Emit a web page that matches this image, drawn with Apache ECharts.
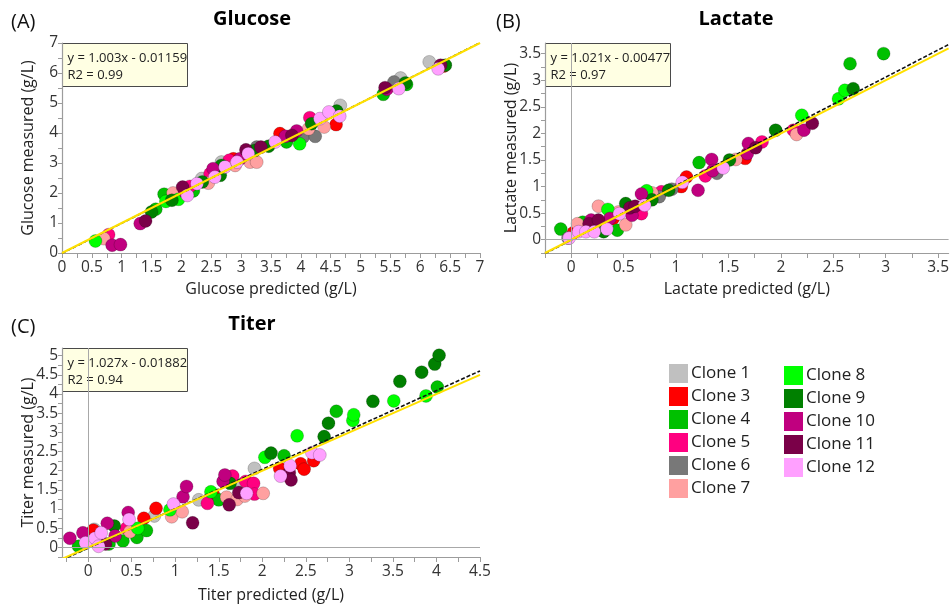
<!DOCTYPE html>
<html>
<head>
<meta charset="UTF-8">
<title>Predicted vs measured</title>
<script src="https://cdn.jsdelivr.net/npm/echarts@6/dist/echarts.min.js"></script>
<style>
  html, body { margin: 0; padding: 0; background: #fff; }
  #main { width: 952px; height: 604px; }
</style>
</head>
<body>
<div id="main"></div>
<script type="text/javascript">
    // clones shown in the legend
    var cloneNums = [1, 3, 4, 5, 6, 7, 8, 9, 10, 11, 12];
    var cloneColors = ['#c0c0c0', '#ff0000', '#00c000', '#ff0080', '#787878', '#ffa0a0',
                       '#00ff00', '#008000', '#c0007f', '#7a0048', '#ffa0ff'];

    // [clone, predicted, measured]
    var glucosePts = [
        [8,0.56,0.40],[5,0.78,0.61],[7,0.70,0.48],[10,0.84,0.26],[10,0.98,0.28],[10,1.31,0.98],
        [11,1.40,1.07],[9,1.50,1.37],[4,1.57,1.46],[4,1.71,1.96],[8,1.74,1.72],[9,1.84,1.76],
        [7,1.86,2.00],[8,1.95,1.79],[11,2.02,2.20],[10,2.06,2.03],[12,2.10,1.92],[5,2.14,2.22],
        [4,2.20,2.07],[12,2.26,2.31],[1,2.34,2.48],[9,2.35,2.37],[7,2.45,2.33],[5,2.48,2.64],
        [10,2.53,2.81],[12,2.56,2.53],[9,2.65,2.59],[1,2.67,3.03],[9,2.67,2.92],[5,2.80,3.09],
        [12,2.73,2.87],[7,2.90,2.92],[12,2.93,3.03],[3,2.87,3.14],[10,2.98,3.14],[11,3.08,3.44],
        [7,3.15,3.03],[12,3.12,3.31],[7,3.26,3.03],[9,3.23,3.42],[6,3.26,3.53],[11,3.33,3.53],
        [9,3.46,3.56],[12,3.57,3.70],[3,3.65,3.98],[10,3.74,3.89],[4,3.76,3.70],[11,3.85,3.92],
        [10,3.93,4.07],[8,3.98,3.64],[6,4.04,3.87],[7,4.13,4.14],[5,4.15,4.51],[9,4.18,4.31],
        [6,4.24,3.89],[12,4.32,4.48],[7,4.39,4.20],[12,4.47,4.70],[9,4.60,4.73],[3,4.59,4.28],
        [1,4.66,4.92],[12,4.65,4.56],[4,5.38,5.29],[10,5.44,5.46],[11,5.41,5.51],[6,5.56,5.70],
        [1,5.67,5.83],[12,5.64,5.48],[9,5.75,5.67],[4,5.77,5.62],[1,6.15,6.37],[12,6.30,6.14],
        [11,6.34,6.26],[3,6.39,6.23],[9,6.42,6.26]
    ];
    var lactatePts = [
        [4,-0.10,0.20],[6,-0.03,0.03],[12,-0.02,0.03],[3,0.02,0.13],[7,0.06,0.30],[12,0.07,0.15],
        [4,0.11,0.33],[12,0.14,0.15],[10,0.19,0.37],[11,0.17,0.30],[11,0.26,0.37],[7,0.26,0.63],
        [12,0.22,0.15],[9,0.31,0.15],[8,0.35,0.57],[12,0.34,0.20],[10,0.37,0.40],[3,0.40,0.40],
        [7,0.45,0.52],[12,0.46,0.49],[4,0.44,0.18],[7,0.52,0.28],[9,0.52,0.68],[11,0.56,0.60],
        [10,0.58,0.46],[11,0.61,0.63],[5,0.67,0.49],[10,0.67,0.86],[12,0.70,0.65],[8,0.72,0.92],
        [7,0.77,0.88],[9,0.77,0.75],[6,0.84,0.81],[5,0.86,0.90],[9,0.93,0.93],[6,0.96,0.95],
        [3,1.05,1.00],[12,1.06,1.08],[3,1.10,1.18],[10,1.21,0.93],[4,1.22,1.45],[5,1.28,1.20],
        [10,1.34,1.51],[10,1.35,1.30],[6,1.39,1.25],[12,1.45,1.35],[9,1.51,1.50],[7,1.57,1.51],
        [3,1.66,1.53],[10,1.68,1.62],[10,1.69,1.81],[11,1.76,1.73],[5,1.82,1.84],[9,1.95,2.06],
        [5,2.12,2.06],[7,2.15,1.98],[8,2.20,2.34],[10,2.22,2.06],[11,2.30,2.19],[8,2.55,2.65],
        [8,2.61,2.81],[9,2.69,2.84],[4,2.66,3.31],[4,2.98,3.50]
    ];
    var titerPts = [
        [10,-0.21,0.24],[4,-0.11,0.03],[10,-0.06,0.38],[3,0.06,0.45],[1,0.07,0.47],[12,-0.03,0.12],
        [12,0.08,0.24],[12,0.15,0.38],[11,0.20,0.09],[12,0.12,0.03],[10,0.22,0.63],[9,0.30,0.56],
        [4,0.24,0.09],[10,0.31,0.30],[4,0.40,0.17],[10,0.46,0.91],[12,0.47,0.73],[5,0.44,0.50],
        [7,0.48,0.41],[8,0.57,0.50],[4,0.56,0.26],[3,0.64,0.76],[4,0.67,0.44],[1,0.76,0.82],
        [3,0.78,1.02],[8,0.94,0.98],[7,0.96,0.80],[12,0.98,1.13],[7,1.08,0.93],[10,1.09,1.32],
        [10,1.13,1.59],[11,1.20,0.64],[1,1.27,1.24],[5,1.37,1.15],[8,1.41,1.45],[3,1.44,1.37],
        [4,1.50,1.24],[10,1.55,1.72],[10,1.57,1.89],[7,1.59,1.31],[11,1.62,1.11],[9,1.63,1.67],
        [5,1.66,1.86],[7,1.71,1.25],[11,1.73,1.43],[1,1.76,1.65],[12,1.82,1.41],[7,1.80,1.34],
        [5,1.81,1.72],[5,1.90,1.67],[5,1.91,1.39],[1,1.91,2.06],[7,2.01,1.41],[8,2.03,2.35],
        [9,2.10,2.46],[3,2.20,2.06],[12,2.21,1.86],[4,2.25,2.39],[12,2.32,2.13],[11,2.31,1.95],
        [11,2.33,1.76],[8,2.40,2.91],[3,2.44,2.18],[3,2.48,2.04],[3,2.59,2.26],[12,2.57,2.47],
        [12,2.66,2.41],[9,2.71,2.89],[9,2.76,3.24],[4,2.85,3.55],[8,3.04,3.31],[8,3.05,3.46],
        [9,3.27,3.81],[8,3.51,3.82],[9,3.58,4.33],[9,3.83,4.57],[8,3.88,3.95],[4,4.01,4.18],
        [9,3.98,4.78],[9,4.03,5.01]
    ];

    // fit: [slope, intercept], r2
    var glucoseFit = [1.003, -0.01159], glucoseR2 = '0.99';
    var lactateFit = [1.021, -0.00477], lactateR2 = '0.97';
    var titerFit = [1.027, -0.01882], titerR2 = '0.94';

    // tick labels
    var glucoseXLabels = [0, 0.5, 1, 1.5, 2, 2.5, 3, 3.5, 4, 4.5, 5, 5.5, 6, 6.5, 7];
    var glucoseYLabels = [0, 1, 2, 3, 4, 5, 6, 7];
    var lactateXLabels = [0, 0.5, 1, 1.5, 2, 2.5, 3, 3.5];
    var lactateYLabels = [0, 0.5, 1, 1.5, 2, 2.5, 3, 3.5];
    var titerXLabels = [0, 0.5, 1, 1.5, 2, 2.5, 3, 3.5, 4, 4.5];
    var titerYLabels = [0, 0.5, 1, 1.5, 2, 2.5, 3, 3.5, 4, 4.5, 5];

    function steps(from, to, step) {
        var out = [];
        for (var v = from; v <= to + 1e-9; v += step) out.push(Math.round(v * 1000) / 1000);
        return out;
    }

    var FONT = '"Open Sans", "Noto Sans", sans-serif';
    var AXIS_GRAY = '#9c9c9c';

    var panels = [
        { title: 'Glucose', tag: '(A)', pts: glucosePts, fit: glucoseFit, r2: glucoseR2,
          grid: { left: 62, top: 43, width: 418, height: 210 },
          x: [0, 7], y: [0, 7], xTicks: steps(0, 7, 0.25), yTicks: steps(0, 7, 0.5),
          xLabels: glucoseXLabels, yLabels: glucoseYLabels, zero: false,
          xName: 'Glucose predicted (g/L)', yName: 'Glucose measured (g/L)',
          titleX: 252, titleY: 9, tagX: 11, tagY: 12, xGap: 28 },
        { title: 'Lactate', tag: '(B)', pts: lactatePts, fit: lactateFit, r2: lactateR2,
          grid: { left: 545, top: 43, width: 409, height: 210 },
          x: [-0.25, 3.6], y: [-0.25, 3.7], xTicks: steps(-0.25, 3.5, 0.25), yTicks: steps(-0.25, 3.5, 0.25),
          xLabels: lactateXLabels, yLabels: lactateYLabels, zero: true,
          xName: 'Lactate predicted (g/L)', yName: 'Lactate measured (g/L)',
          titleX: 736, titleY: 9, tagX: 496, tagY: 12, xGap: 28 },
        { title: 'Titer', tag: '(C)', pts: titerPts, fit: titerFit, r2: titerR2,
          grid: { left: 62, top: 348, width: 418, height: 209 },
          x: [-0.3, 4.5], y: [-0.25, 5.2], xTicks: steps(-0.25, 4.5, 0.25), yTicks: steps(-0.25, 5, 0.25),
          xLabels: titerXLabels, yLabels: titerYLabels, zero: true,
          xName: 'Titer predicted (g/L)', yName: 'Titer measured (g/L)',
          titleX: 252, titleY: 314, tagX: 11, tagY: 317, xGap: 30 }
    ];

    function axis(i, range, ticks, labels, name, gap, isY) {
        return {
            type: 'value', gridIndex: i, min: range[0], max: range[1],
            name: name, nameLocation: 'middle', nameGap: gap, nameRotate: isY ? 90 : 0,
            nameMoveOverlap: false,
            nameTextStyle: { fontSize: 16, color: '#222', fontFamily: FONT },
            axisLine: { show: true, onZero: false, lineStyle: { color: AXIS_GRAY, width: 1.2 } },
            axisTick: { show: true, inside: false, length: isY ? 4 : 5, customValues: ticks,
                        lineStyle: { color: AXIS_GRAY, width: 1 } },
            minorTick: { show: false },
            axisLabel: { customValues: labels, fontSize: 15.5, color: '#333', fontFamily: FONT,
                         margin: isY ? 4 : 7, formatter: function (v) { return String(v); } },
            splitLine: { show: false }
        };
    }

    var grids = [], xAxes = [], yAxes = [], series = [], titles = [], graphics = [];

    panels.forEach(function (p, i) {
        grids.push(p.grid);
        xAxes.push(axis(i, p.x, p.xTicks, p.xLabels, p.xName, p.xGap, false));
        yAxes.push(axis(i, p.y, p.yTicks, p.yLabels, p.yName, 26, true));

        titles.push({ text: p.title, left: p.titleX, top: p.titleY, textAlign: 'center', padding: 0,
                      textStyle: { fontSize: 20, fontWeight: 'bold', color: '#000', fontFamily: FONT } });
        titles.push({ text: p.tag, left: p.tagX, top: p.tagY, padding: 0,
                      textStyle: { fontSize: 20, fontWeight: 'normal', color: '#111', fontFamily: FONT } });

        cloneNums.forEach(function (c, k) {
            series.push({
                type: 'scatter', name: 'Clone ' + c, xAxisIndex: i, yAxisIndex: i,
                symbolSize: 13, z: 2,
                itemStyle: { color: cloneColors[k], opacity: 1, borderColor: 'rgba(0,0,0,0.28)', borderWidth: 0.7 },
                data: p.pts.filter(function (d) { return d[0] === c; })
                           .map(function (d) { return [d[1], d[2]]; })
            });
        });

        if (p.zero) {
            series.push({
                type: 'line', xAxisIndex: i, yAxisIndex: i, data: [], z: 1, silent: true,
                markLine: { silent: true, symbol: 'none', animation: false, label: { show: false },
                            lineStyle: { color: '#a8a8a8', width: 1, type: 'solid' },
                            data: [{ xAxis: 0 }, { yAxis: 0 }] }
            });
        }

        var a = p.fit[0], b = p.fit[1];
        series.push({
            type: 'line', xAxisIndex: i, yAxisIndex: i, symbol: 'none', silent: true, z: 3,
            lineStyle: { color: '#111', width: 1.6, type: [4, 2] },
            data: [[p.x[0], a * p.x[0] + b], [p.x[1], a * p.x[1] + b]]
        });
        series.push({
            type: 'line', xAxisIndex: i, yAxisIndex: i, symbol: 'none', silent: true, z: 4,
            lineStyle: { color: '#ffe000', width: 2 },
            data: [[p.x[0], p.x[0]], [p.x[1], p.x[1]]]
        });

        var sign = b < 0 ? ' - ' : ' + ';
        graphics.push({
            type: 'group', left: p.grid.left, top: p.grid.top, z: 0,
            children: [
                { type: 'rect', shape: { x: 0, y: 0, width: 125, height: 43 },
                  style: { fill: '#ffffe3', stroke: '#4a4a4a', lineWidth: 1 } },
                { type: 'text', x: 5, y: 6,
                  style: { text: 'y = ' + a + 'x' + sign + Math.abs(b) + '\nR2 = ' + p.r2,
                           fontSize: 13, lineHeight: 17, fontFamily: FONT, fill: '#222' } }
            ]
        });
    });

    var legendBase = {
        orient: 'vertical', icon: 'rect', itemWidth: 19, itemHeight: 19, itemGap: 4, padding: 0,
        selectedMode: false,
        itemStyle: { borderWidth: 0 },
        textStyle: { fontSize: 17, color: '#222', fontFamily: FONT, padding: [0, 0, 0, -2] }
    };
    var legendCol1 = ['Clone 1', 'Clone 3', 'Clone 4', 'Clone 5', 'Clone 6', 'Clone 7'];
    var legendCol2 = ['Clone 8', 'Clone 9', 'Clone 10', 'Clone 11', 'Clone 12'];

    var myChart = echarts.init(document.getElementById('main'), null, { renderer: 'canvas' });
    myChart.setOption({
        animation: false,
        backgroundColor: '#fff',
        title: titles,
        grid: grids,
        xAxis: xAxes,
        yAxis: yAxes,
        legend: [
            Object.assign({}, legendBase, { data: legendCol1, left: 669, top: 364 }),
            Object.assign({}, legendBase, { data: legendCol2, left: 784, top: 366 })
        ],
        graphic: graphics,
        series: series
    });
</script>
</body>
</html>
